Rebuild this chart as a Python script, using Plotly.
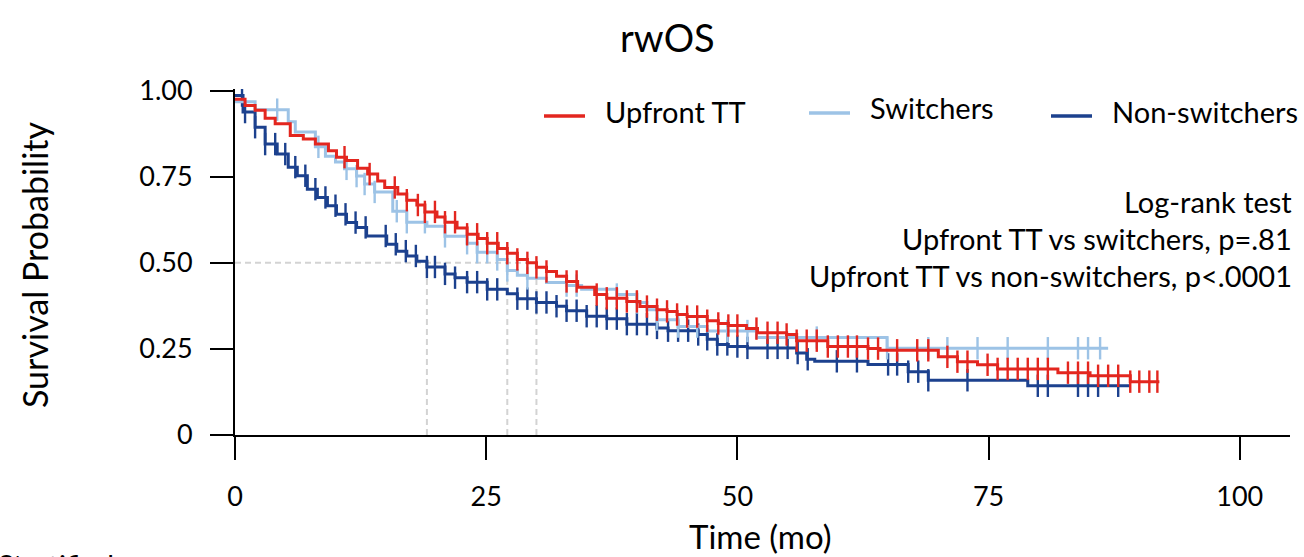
import numpy as np
import plotly.graph_objects as go

# Kaplan-Meier step data: times (mo) where survival drops, survival after each drop
upfront_t = [0, 1.0, 2.0, 3.0, 4.0, 5.5, 6.8, 8.0, 9.3, 10.1, 11.1, 12.2, 13.2, 14.2, 14.9,
             16.2, 17.1, 18.1, 18.9, 20.1, 20.9, 22.1, 23.1, 24.2, 25.1, 26.2, 27.1, 28.1,
             29.1, 30.0, 31.0, 32.0, 33.0, 34.1, 35.8, 37.0, 39.0, 40.3, 42.0, 43.0, 44.0,
             45.0, 47.0, 48.1, 49.1, 50.9, 52.0, 54.9, 55.9, 59.0, 63.0, 64.2, 70.0, 71.9,
             73.9, 75.9, 81.9, 85.1, 89.1]
upfront_s = [0.975, 0.957, 0.943, 0.920, 0.904, 0.870, 0.860, 0.845, 0.826, 0.807, 0.797,
             0.775, 0.758, 0.738, 0.719, 0.700, 0.682, 0.668, 0.648, 0.633, 0.618, 0.601,
             0.583, 0.571, 0.557, 0.542, 0.528, 0.510, 0.500, 0.487, 0.475, 0.461, 0.446,
             0.429, 0.408, 0.397, 0.388, 0.373, 0.364, 0.359, 0.350, 0.344, 0.332, 0.324,
             0.318, 0.309, 0.297, 0.292, 0.274, 0.257, 0.251, 0.246, 0.227, 0.213, 0.204,
             0.192, 0.181, 0.172, 0.155]
upfront_end = 92.0
upfront_cens = [10.9, 13.4, 15.9, 17.1, 18.2, 18.9, 19.9, 20.9, 21.9, 23.1, 24.1, 25.1, 26.1,
                27.1, 28.1, 29.1, 30.0, 31.0, 33.0, 34.0, 36.0, 37.0, 38.0, 39.0, 40.0, 41.0,
                42.0, 43.0, 44.0, 45.0, 46.0, 47.0, 48.1, 49.1, 50.0, 51.9, 53.0, 54.0, 54.9,
                55.9, 56.9, 57.9, 59.0, 60.0, 61.0, 61.9, 63.0, 64.0, 65.9, 67.9, 69.0, 70.9,
                71.9, 72.9, 74.9, 75.9, 76.9, 77.9, 78.9, 79.9, 80.9, 82.9, 83.9, 84.9, 85.9,
                86.9, 87.9, 89.1, 90.0, 91.0, 91.8]

switch_t = [0, 2.0, 5.3, 6.0, 8.0, 9.0, 10.0, 10.9, 12.1, 12.9, 13.9, 15.7, 17.1, 19.1, 20.9,
            23.1, 24.1, 26.1, 27.1, 28.1, 29.1, 31.0, 33.0, 34.5, 38.0, 40.0, 41.0, 42.0,
            44.1, 47.0, 51.9, 64.9]
switch_s = [0.968, 0.945, 0.910, 0.880, 0.837, 0.810, 0.793, 0.773, 0.752, 0.729, 0.706,
            0.650, 0.618, 0.606, 0.577, 0.557, 0.531, 0.510, 0.478, 0.464, 0.455, 0.443,
            0.434, 0.423, 0.408, 0.385, 0.364, 0.335, 0.315, 0.302, 0.283, 0.252]
switch_end = 86.9
switch_cens = [4.2, 8.3, 11.1, 12.1, 12.9, 13.9, 16.1, 17.1, 18.9, 20.9, 23.1, 24.1, 25.1,
               26.1, 27.1, 29.1, 33.0, 34.0, 38.0, 40.0, 42.0, 44.1, 46.0, 49.0, 51.0, 57.9,
               64.9, 69.0, 70.9, 73.9, 76.9, 80.9, 83.9, 84.9, 86.1]

nonsw_t = [0, 0.8, 2.0, 3.0, 4.2, 5.3, 6.2, 7.2, 8.2, 9.2, 10.1, 11.1, 12.1, 13.1, 15.1, 16.1,
           17.1, 18.1, 19.1, 20.9, 21.9, 23.1, 25.1, 27.1, 28.1, 30.0, 32.0, 33.0, 35.0, 37.0,
           39.0, 42.0, 43.1, 46.1, 47.0, 48.0, 49.1, 51.0, 55.9, 56.9, 57.7, 63.0, 67.0, 69.0,
           78.9]
nonsw_s = [0.986, 0.938, 0.894, 0.845, 0.816, 0.778, 0.753, 0.714, 0.690, 0.666, 0.641, 0.617,
           0.603, 0.578, 0.554, 0.534, 0.520, 0.505, 0.488, 0.468, 0.457, 0.444, 0.423, 0.410,
           0.396, 0.385, 0.374, 0.361, 0.345, 0.338, 0.322, 0.311, 0.303, 0.292, 0.278, 0.263,
           0.257, 0.253, 0.238, 0.220, 0.214, 0.205, 0.184, 0.159, 0.143]
nonsw_end = 89.1
nonsw_cens = [0.7, 1.0, 2.0, 3.0, 4.0, 5.0, 6.0, 7.0, 8.0, 9.0, 10.0, 11.0, 12.0, 13.0, 15.0,
              16.0, 17.0, 18.0, 19.1, 19.9, 20.9, 21.9, 23.1, 24.1, 25.1, 26.1, 28.1, 29.1,
              30.0, 31.0, 32.0, 33.0, 34.0, 35.0, 36.0, 37.0, 38.0, 39.0, 40.0, 41.0, 42.0,
              43.1, 44.1, 45.1, 46.1, 47.0, 48.0, 49.0, 50.0, 51.0, 53.0, 54.0, 55.0, 56.0,
              57.0, 59.9, 61.9, 65.0, 65.9, 67.0, 68.0, 69.0, 72.9, 79.9, 80.9, 83.9, 84.9,
              85.9, 87.9]

group_names = ["Upfront TT", "Switchers", "Non-switchers"]
group_colors = ["#E3261F", "#9DC3E6", "#1C418E"]

x_ticks = [0, 25, 50, 75, 100]
y_ticks = [0, 0.25, 0.5, 0.75, 1.0]
y_tick_text = ["0", "0.25", "0.50", "0.75", "1.00"]

logrank_lines = ["Log-rank test",
                 "Upfront TT vs switchers, p=.81",
                 "Upfront TT vs non-switchers, p<.0001"]
footnote = "Stratified"

FONT = "Lato"

groups = [
    (upfront_t, upfront_s, upfront_end, upfront_cens),
    (switch_t, switch_s, switch_end, switch_cens),
    (nonsw_t, nonsw_s, nonsw_end, nonsw_cens),
]


def surv_at(times, surv, t):
    idx = np.searchsorted(np.asarray(times), t, side="right") - 1
    idx = max(idx, 0)
    return surv[idx]


def median_time(times, surv):
    for t, s in zip(times, surv):
        if s < 0.5:
            return t
    return None


fig = go.Figure()

# median reference lines
medians = [median_time(t, s) for t, s, _, _ in groups]
ref_line = dict(color="#D3D3D3", width=2, dash="6px,4px")
fig.add_trace(go.Scatter(
    x=[0, max(medians)], y=[0.5, 0.5], mode="lines", line=ref_line,
    hoverinfo="skip", showlegend=False))
for m in medians:
    fig.add_trace(go.Scatter(
        x=[m, m], y=[0, 0.5], mode="lines", line=ref_line,
        hoverinfo="skip", showlegend=False))

# survival curves + censor ticks (drawn in reverse so red ends up on top)
order = [2, 1, 0]
for i in order:
    times, surv, t_end, cens = groups[i]
    color = group_colors[i]
    fig.add_trace(go.Scatter(
        x=list(times) + [t_end], y=list(surv) + [surv[-1]],
        mode="lines", line=dict(color=color, width=3, shape="hv"),
        name=group_names[i], showlegend=False))
    fig.add_trace(go.Scatter(
        x=cens, y=[surv_at(times, surv, c) for c in cens],
        mode="markers",
        marker=dict(symbol="line-ns", size=16, line=dict(color=color, width=2.4)),
        hoverinfo="skip", showlegend=False))

# plot-area geometry helpers (pixel -> paper)
W, H = 1304, 557
ML, MR, MT, MB = 235, 14, 89, 122
PW, PH = W - ML - MR, H - MT - MB


def px(xp):
    return (xp - ML) / PW


def py(yp):
    return (H - MB - yp) / PH


annotations = []
shapes = []

# legend drawn as line samples + labels
legend_line_x = [544, 809, 1051]
legend_text_x = [603, 868, 1110]
legend_y = [116, 113, 116]
for i in range(3):
    shapes.append(dict(type="line", xref="paper", yref="paper",
                       x0=px(legend_line_x[i]), x1=px(legend_line_x[i] + 41),
                       y0=py(legend_y[i]), y1=py(legend_y[i]),
                       line=dict(color=group_colors[i], width=3.5)))
    annotations.append(dict(text=group_names[i], xref="paper", yref="paper",
                            x=px(legend_text_x[i]), y=py(legend_y[i] - 5),
                            xanchor="left", yanchor="middle", showarrow=False,
                            font=dict(family=FONT, size=29, color="black")))

# log-rank block
for line, yy in zip(logrank_lines, [201, 239, 275]):
    annotations.append(dict(text=line, xref="paper", yref="paper",
                            x=px(1294), y=py(yy), xanchor="right", yanchor="middle",
                            showarrow=False, font=dict(family=FONT, size=29, color="black")))

# title, axis titles, footnote
annotations.append(dict(text="rwOS", xref="paper", yref="paper", x=px(667), y=py(37),
                        xanchor="center", yanchor="middle", showarrow=False,
                        font=dict(family=FONT, size=38, color="black")))
annotations.append(dict(text="Time (mo)", xref="paper", yref="paper", x=px(760), y=py(536),
                        xanchor="center", yanchor="middle", showarrow=False,
                        font=dict(family=FONT, size=33, color="black")))
annotations.append(dict(text="Survival Probability", xref="paper", yref="paper",
                        x=px(34), y=py(265), xanchor="center", yanchor="middle",
                        textangle=-90, showarrow=False,
                        font=dict(family=FONT, size=34, color="black")))
annotations.append(dict(text=footnote, xref="paper", yref="paper", x=px(-4), y=py(545),
                        xanchor="left", yanchor="top", showarrow=False,
                        font=dict(family=FONT, size=29, color="black")))

fig.update_layout(
    width=W, height=H,
    margin=dict(l=ML, r=MR, t=MT, b=MB),
    plot_bgcolor="white", paper_bgcolor="white",
    showlegend=False,
    annotations=annotations,
    shapes=shapes,
    xaxis=dict(range=[0, 105], tickvals=x_ticks, ticks="outside", ticklen=23,
               tickwidth=2, tickcolor="black", showline=True, linecolor="black",
               linewidth=2, showgrid=False, zeroline=False, ticklabelstandoff=14,
               tickfont=dict(family=FONT, size=27, color="black")),
    yaxis=dict(range=[0, 1.005], tickvals=y_ticks, ticktext=y_tick_text, ticks="outside",
               ticklen=23, tickwidth=2, tickcolor="black", showline=True,
               linecolor="black", linewidth=2, showgrid=False, zeroline=False,
               ticklabelstandoff=12,
               tickfont=dict(family=FONT, size=27, color="black")),
)

fig.write_html("out.html")
